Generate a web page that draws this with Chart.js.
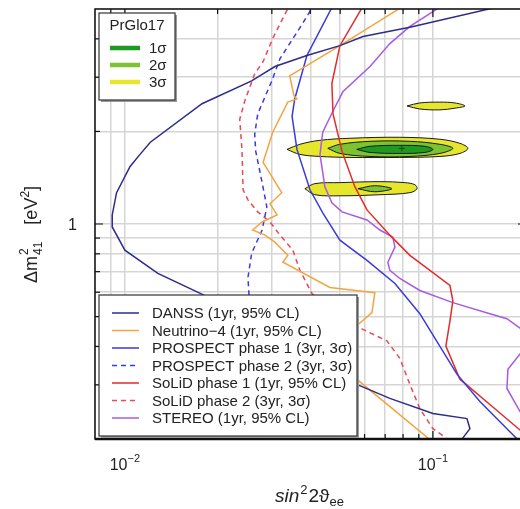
<!DOCTYPE html>
<html>
<head>
<meta charset="utf-8">
<script src="https://cdn.jsdelivr.net/npm/chart.js@4.4.0/dist/chart.umd.min.js"></script>
<style>
html, body { margin: 0; padding: 0; background: #fff; overflow: hidden; }
#caixaGrafico { width: 526px; height: 509px; position: relative; }
canvas { display: block; }
</style>
</head>
<body>
<div id="caixaGrafico"><canvas id="grafico" width="526" height="509"></canvas></div>
<script>
// eixos (log-log)
const xMin = 0.008, xMax = 0.1932
const yMin = 0.2, yMax = 5
const xGrid = [0.008, 0.009, 0.01, 0.02, 0.03, 0.04, 0.05, 0.06, 0.07, 0.08, 0.09, 0.1]
const yGrid = [0.2, 0.3, 0.4, 0.5, 0.6, 0.7, 0.8, 0.9, 1, 2, 3, 4, 5]
const xTickValues = [0.01, 0.1]
const xTickExps = ['−2', '−1']
const yTickValues = [1]
const yTickLabels = ['1']

// curvas de sensibilidade [sin^2 2theta, dm2]
const danss = [[0.122,0.19],[0.1243,0.2],[0.1319,0.216],[0.129,0.233],[0.1,0.242],[0.0725,0.271],[0.0566,0.301],[0.0182,0.585],[0.0128,0.691],[0.01,0.822],[0.0091,0.978],[0.0091,1.07],[0.0094,1.264],[0.0104,1.538],[0.0112,1.684],[0.0121,1.844],[0.0178,2.46],[0.0258,2.92],[0.0274,3.03],[0.0307,3.25],[0.039,3.53],[0.0499,3.8],[0.0593,4.07],[0.0842,4.36],[0.1614,5.07],[0.1917,5.3]]
const neutrino4 = [[0.0842,5.27],[0.0499,3.8],[0.0343,3.03],[0.0354,2.61],[0.0362,2.55],[0.0338,2.49],[0.0302,1.988],[0.0281,1.585],[0.0323,1.264],[0.0296,1.163],[0.0312,1.07],[0.0279,1.015],[0.026,0.956],[0.0285,0.92],[0.0307,0.873],[0.0338,0.791],[0.0326,0.751],[0.0463,0.622],[0.0648,0.598],[0.0634,0.515],[0.0566,0.467],[0.0518,0.386],[0.0566,0.313],[0.0978,0.199],[0.1,0.193]]
const prospect1 = [[0.0484,5.35],[0.039,3.53],[0.0356,2.55],[0.0349,2.24],[0.0362,1.748],[0.0399,1.292],[0.0439,1.087],[0.0499,0.886],[0.0611,0.762],[0.0753,0.641],[0.0907,0.511],[0.1197,0.325],[0.1421,0.265],[0.1778,0.211],[0.1888,0.199],[0.205,0.19]]
const prospect2 = [[0.0414,5.23],[0.0378,4.49],[0.0319,3.45],[0.03,2.92],[0.027,2.28],[0.0264,1.958],[0.0266,1.722],[0.0279,1.363],[0.0289,1.137],[0.0279,0.956],[0.0258,0.803],[0.0251,0.67],[0.0253,0.585],[0.0255,0.523]]
const solid1 = [[0.0606,5.3],[0.0499,3.8],[0.047,2.86],[0.0474,2.28],[0.0507,1.722],[0.0558,1.322],[0.0611,1.111],[0.0725,0.92],[0.0842,0.791],[0.1136,0.631],[0.1161,0.563],[0.1136,0.484],[0.1102,0.401],[0.1224,0.313],[0.1531,0.259],[0.1917,0.214],[0.2065,0.203]]
const solid2 = [[0.0349,5.27],[0.0336,4.96],[0.0302,4.01],[0.0281,3.37],[0.0264,3.08],[0.0245,2.51],[0.0236,2.19],[0.024,1.748],[0.0242,1.292],[0.0251,1.198],[0.027,1.095],[0.0296,1.015],[0.0319,0.92],[0.0351,0.822],[0.037,0.707],[0.0405,0.594],[0.0481,0.515],[0.0588,0.456],[0.0709,0.417],[0.0781,0.366],[0.0842,0.301],[0.0907,0.251],[0.1,0.216],[0.1094,0.203],[0.1136,0.196]]
const stereo = [[0.1102,5.3],[0.1054,5.07],[0.0842,4.39],[0.0725,3.86],[0.0625,3.25],[0.051,2.69],[0.0474,2.33],[0.0439,1.988],[0.043,1.684],[0.0446,1.322],[0.047,1.172],[0.0507,1.095],[0.0611,1.031],[0.0673,0.956],[0.0741,0.906],[0.0753,0.841],[0.0714,0.751],[0.0725,0.707],[0.0781,0.665],[0.0907,0.608],[0.1161,0.555],[0.1531,0.511],[0.1739,0.492],[0.1917,0.459],[0.2144,0.417],[0.1917,0.378],[0.1752,0.337],[0.1739,0.292],[0.1917,0.246],[0.2065,0.219]]

// PrGlo17 regioes permitidas
const ilhaGrande3 = [[0.0336,1.748],[0.037,1.816],[0.043,1.871],[0.0538,1.9],[0.0781,1.914],[0.1054,1.886],[0.1224,1.829],[0.1299,1.762],[0.1224,1.696],[0.1054,1.658],[0.0781,1.646],[0.0538,1.646],[0.043,1.658],[0.037,1.684],[0.0336,1.748]]
const ilhaGrande2 = [[0.0456,1.762],[0.0499,1.816],[0.0625,1.857],[0.0842,1.857],[0.1054,1.816],[0.1161,1.762],[0.1054,1.696],[0.0842,1.658],[0.0625,1.658],[0.0499,1.696],[0.0456,1.762]]
const ilhaGrande1 = [[0.0566,1.748],[0.0625,1.789],[0.0781,1.802],[0.0942,1.789],[0.1,1.748],[0.0942,1.709],[0.0781,1.696],[0.0625,1.709],[0.0566,1.748]]
const ilhaBaixa3 = [[0.0384,1.302],[0.0414,1.353],[0.0499,1.363],[0.0673,1.373],[0.0811,1.363],[0.0874,1.342],[0.0888,1.302],[0.0842,1.264],[0.0673,1.245],[0.0499,1.235],[0.0414,1.245],[0.0384,1.302]]
const ilhaBaixa2 = [[0.0571,1.302],[0.0648,1.332],[0.0736,1.302],[0.0648,1.273],[0.0571,1.302]]
const ilhaAlta3 = [[0.0824,2.42],[0.0907,2.475],[0.1054,2.49],[0.1179,2.475],[0.1271,2.42],[0.1179,2.38],[0.1054,2.35],[0.0907,2.365],[0.0824,2.42]]
const melhorAjuste = [[0.0793,1.762]]

const legendaLabels = ['DANSS (1yr, 95% CL)', 'Neutrino−4 (1yr, 95% CL)', 'PROSPECT phase 1 (3yr, 3σ)', 'PROSPECT phase 2 (3yr, 3σ)', 'SoLiD phase 1 (1yr, 95% CL)', 'SoLiD phase 2 (3yr, 3σ)', 'STEREO (1yr, 95% CL)']
const prgloTitulo = 'PrGlo17'
const prgloLabels = ['1σ', '2σ', '3σ']

const coresLinhas = ['#2c2c8c', '#f2a541', '#3a3ade', '#3a3ade', '#e42a2a', '#e8485a', '#a85be2']
const tracejados = [false, false, false, true, false, true, false]
const coresSigma = ['#1e9a22', '#7cc232', '#e6e62c']
const fonte = '"Liberation Sans", Arial, sans-serif'

function pontos(lista) {
    return lista.map(p => ({ x: p[0], y: p[1] }))
}

function linha(lista, i) {
    return {
        data: pontos(lista),
        showLine: true,
        borderColor: coresLinhas[i],
        borderWidth: 1.5,
        borderDash: tracejados[i] ? [5, 4] : [],
        pointRadius: 0,
        fill: false,
        tension: 0,
        order: 0,
    }
}

function contorno(lista, sigma) {
    return {
        data: pontos(lista),
        showLine: true,
        borderColor: '#1a1a1a',
        borderWidth: 1,
        backgroundColor: coresSigma[sigma],
        fill: 'shape',
        pointRadius: 0,
        tension: 0.35,
        order: sigma + 1,
    }
}

const decoracao = {
    id: 'decoracao',
    afterDraw(chart) {
        const ctx = chart.ctx
        const area = chart.chartArea
        const sx = chart.scales.x
        const sy = chart.scales.y
        ctx.save()

        // moldura
        ctx.strokeStyle = '#111'
        ctx.lineWidth = 1.5
        ctx.strokeRect(area.left, area.top, area.right - area.left, area.bottom - area.top)
        ctx.lineWidth = 2.5
        ctx.beginPath()
        ctx.moveTo(area.left, area.bottom)
        ctx.lineTo(area.right, area.bottom)
        ctx.stroke()

        // marcas para dentro
        ctx.lineWidth = 1.2
        xGrid.forEach(v => {
            if (v <= xMin || v >= xMax) return
            const x = sx.getPixelForValue(v)
            const len = xTickValues.includes(v) ? 8 : 5
            ctx.beginPath()
            ctx.moveTo(x, area.bottom); ctx.lineTo(x, area.bottom - len)
            ctx.moveTo(x, area.top); ctx.lineTo(x, area.top + len)
            ctx.stroke()
        })
        yGrid.forEach(v => {
            if (v <= yMin || v >= yMax) return
            const y = sy.getPixelForValue(v)
            const major = yTickValues.includes(v)
            ctx.beginPath()
            ctx.moveTo(area.left, y); ctx.lineTo(area.left + (major ? 8 : 5), y)
            if (major) { ctx.moveTo(area.right, y); ctx.lineTo(area.right - 3, y) }
            ctx.stroke()
        })

        // rotulos dos eixos
        ctx.fillStyle = '#222'
        ctx.textBaseline = 'alphabetic'
        xTickValues.forEach((v, i) => {
            const x = sx.getPixelForValue(v)
            ctx.font = '16px ' + fonte
            const wBase = ctx.measureText('10').width
            ctx.font = '11px ' + fonte
            const wExp = ctx.measureText(xTickExps[i]).width
            const x0 = x - (wBase + wExp) / 2
            ctx.font = '16px ' + fonte
            ctx.fillText('10', x0, 470)
            ctx.font = '11px ' + fonte
            ctx.fillText(xTickExps[i], x0 + wBase, 462)
        })
        ctx.font = '16px ' + fonte
        ctx.textAlign = 'right'
        yTickValues.forEach((v, i) => {
            ctx.fillText(yTickLabels[i], 77, sy.getPixelForValue(v) + 6)
        })
        ctx.textAlign = 'left'

        // titulo x: sin^2 2theta_ee
        let px = 275
        ctx.font = 'italic 19px ' + fonte
        ctx.fillText('sin', px, 502); px += ctx.measureText('sin').width + 1
        ctx.font = '13px ' + fonte
        ctx.fillText('2', px, 494); px += ctx.measureText('2').width + 1
        ctx.font = '19px ' + fonte
        ctx.fillText('2ϑ', px, 502); px += ctx.measureText('2ϑ').width
        ctx.font = '13px ' + fonte
        ctx.fillText('ee', px, 506)

        // titulo y: dm^2_41 [eV^2]
        ctx.save()
        ctx.translate(37, 283)
        ctx.rotate(-Math.PI / 2)
        px = 0
        ctx.font = '18px ' + fonte
        ctx.fillText('Δm', px, 0); px += ctx.measureText('Δm').width + 1
        ctx.font = '12px ' + fonte
        ctx.fillText('2', px, -9)
        ctx.fillText('41', px, 5); px += ctx.measureText('41').width
        px += 17
        ctx.font = '18px ' + fonte
        ctx.fillText('[eV', px, 0); px += ctx.measureText('[eV').width
        ctx.font = '12px ' + fonte
        ctx.fillText('2', px, -8); px += ctx.measureText('2').width
        ctx.font = '18px ' + fonte
        ctx.fillText(']', px, 0)
        ctx.restore()

        // caixa PrGlo17
        caixa(ctx, 99, 13, 76, 87)
        ctx.fillStyle = '#222'
        ctx.font = '15px ' + fonte
        ctx.textAlign = 'center'
        ctx.textBaseline = 'middle'
        ctx.fillText(prgloTitulo, 137, 26)
        ctx.textAlign = 'left'
        prgloLabels.forEach((t, i) => {
            const y = 48 + i * 17
            ctx.strokeStyle = coresSigma[i]
            ctx.lineWidth = 4.5
            ctx.setLineDash([])
            ctx.beginPath(); ctx.moveTo(110, y); ctx.lineTo(140, y); ctx.stroke()
            ctx.fillStyle = '#222'
            ctx.fillText(t, 149, y + 1)
        })

        // caixa das curvas
        caixa(ctx, 99, 295, 258, 141)
        legendaLabels.forEach((t, i) => {
            const y = 313 + i * 17.5
            ctx.strokeStyle = coresLinhas[i]
            ctx.lineWidth = 1.5
            ctx.setLineDash(tracejados[i] ? [5, 4] : [])
            ctx.beginPath(); ctx.moveTo(112, y); ctx.lineTo(139, y); ctx.stroke()
            ctx.setLineDash([])
            ctx.fillStyle = '#222'
            ctx.fillText(t, 152, y + 1)
        })
        ctx.restore()
    }
}

function caixa(ctx, x, y, w, h) {
    ctx.setLineDash([])
    ctx.fillStyle = '#9a9a9a'
    ctx.fillRect(x + 2, y + 2, w, h)
    ctx.fillStyle = '#fff'
    ctx.fillRect(x, y, w, h)
    ctx.strokeStyle = '#333'
    ctx.lineWidth = 1.2
    ctx.strokeRect(x, y, w, h)
}

function plotarGrafico() {
    const datasets = [
        linha(danss, 0),
        linha(neutrino4, 1),
        linha(prospect1, 2),
        linha(prospect2, 3),
        linha(solid1, 4),
        linha(solid2, 5),
        linha(stereo, 6),
        {
            data: pontos(melhorAjuste),
            pointStyle: 'cross',
            pointRadius: 3,
            borderColor: '#1b4d1b',
            borderWidth: 1,
            order: 0,
        },
        contorno(ilhaGrande1, 0),
        contorno(ilhaBaixa2, 1),
        contorno(ilhaGrande2, 1),
        contorno(ilhaGrande3, 2),
        contorno(ilhaBaixa3, 2),
        contorno(ilhaAlta3, 2),
    ]

    const eixo = (min, max, grade) => ({
        type: 'logarithmic',
        min: min,
        max: max,
        afterBuildTicks: (s) => { s.ticks = grade.map(v => ({ value: v })) },
        afterFit: (s) => { if (s.isHorizontal()) s.height = 0; else s.width = 0 },
        ticks: { display: false, autoSkip: false },
        grid: { color: '#d5d5d5', lineWidth: 1.5, drawTicks: false },
        border: { display: false },
    })

    new Chart(document.getElementById('grafico').getContext('2d'), {
        type: 'scatter',
        data: { datasets },
        options: {
            responsive: false,
            animation: false,
            layout: { padding: { left: 95, top: 9, right: 0, bottom: 70 } },
            plugins: { legend: { display: false }, tooltip: { enabled: false } },
            scales: {
                x: eixo(xMin, xMax, xGrid),
                y: eixo(yMin, yMax, yGrid),
            },
        },
        plugins: [decoracao],
    })
}

plotarGrafico()
</script>
</body>
</html>
